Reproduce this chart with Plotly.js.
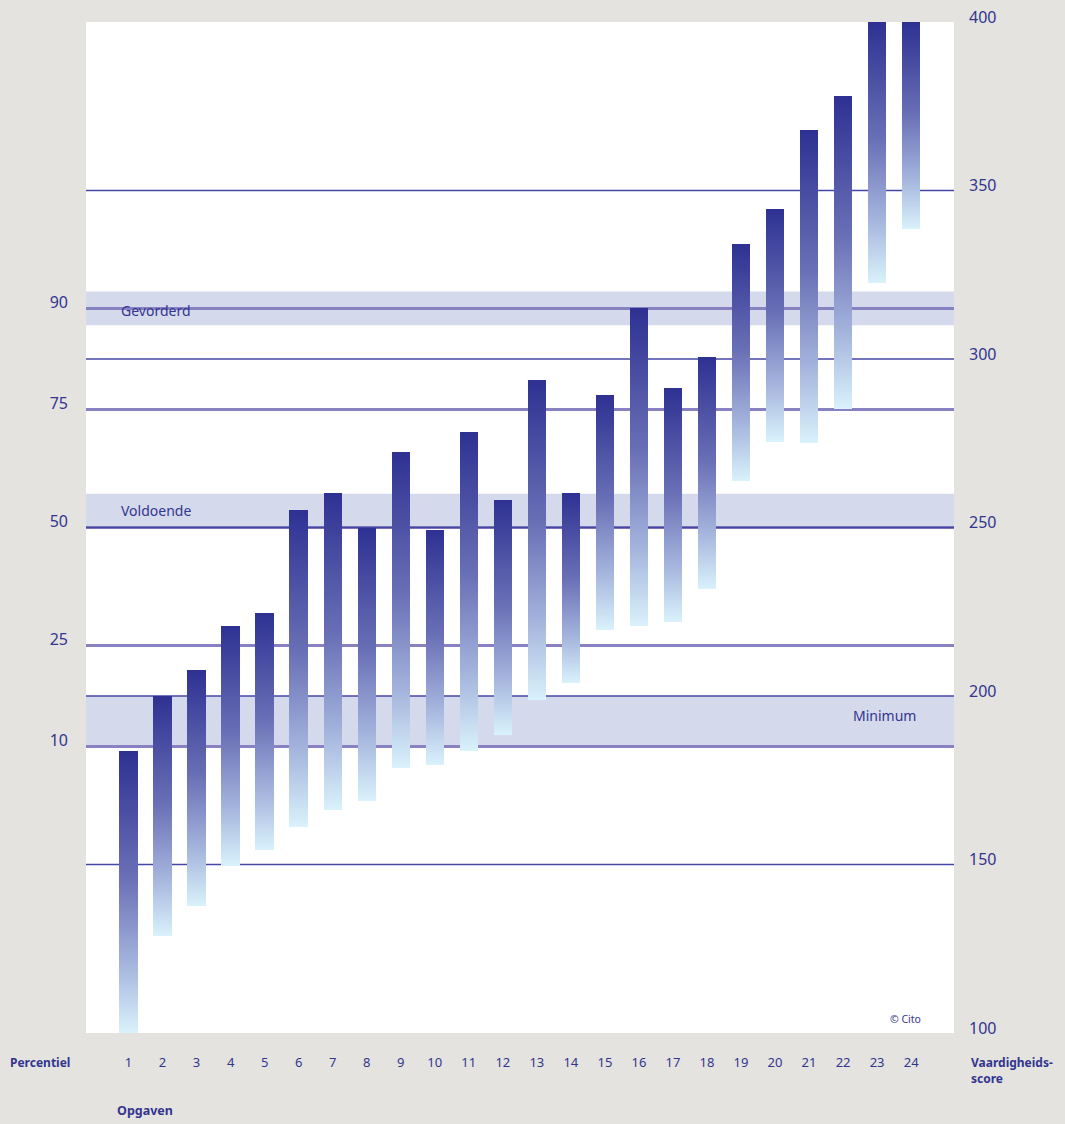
<!DOCTYPE html>
<html>
<head>
<meta charset="utf-8">
<script src="https://cdn.plot.ly/plotly-3.0.1.min.js"></script>
<style>
  html, body { margin:0; padding:0; background:#e4e3df; }
  #chart { width:1065px; height:1124px; }
</style>
</head>
<body>
<div id="chart"></div>
<script>
// ---- data ----
const opgaven = [1,2,3,4,5,6,7,8,9,10,11,12,13,14,15,16,17,18,19,20,21,22,23,24];
const topScores    = [183.6,200.0,207.7,220.7,224.6,255.1,260.3,249.8,272.3,249.4,278.3,258.3,293.8,260.2,289.3,315.1,291.3,300.5,334.1,344.5,367.9,378.0,400,400];
const bottomScores = [100.0,128.7,137.6,149.6,154.2,161.1,166.1,168.8,178.6,179.5,183.6,188.4,198.7,203.8,219.6,220.7,221.9,231.7,263.7,275.5,275.0,285.1,322.5,338.5];

const scoreTicks = [100,150,200,250,300,350,400];
const gridScores = [150,200,250,300,350];

const percentileLabels = ['10','25','50','75','90'];
const percentileScores = [185,215,250,285,315];

const bandNames = ['Minimum','Voldoende','Gevorderd'];
const bandLow   = [185,250,310];
const bandHigh  = [200,260,320];

// ---- styles ----
const NAVY = '#33358f';
const FONT = 'Noto Sans, Open Sans, sans-serif';
const PLOT_L = 86, PLOT_R = 954, PLOT_T = 22, PLOT_B = 1033;
const PW = PLOT_R - PLOT_L, PH = PLOT_B - PLOT_T;
const px = x => (x - PLOT_L) / PW;
const py = y => (PLOT_B - y) / PH;

const heights = topScores.map((t,i) => t - bottomScores[i]);

const traces = [{
  type: 'bar',
  x: opgaven,
  y: heights,
  base: bottomScores,
  width: 0.54,
  marker: { color: '#2e3192', line: { width: 0 } },
  hoverinfo: 'skip',
  yaxis: 'y',
  showlegend: false
}, {
  // invisible trace to activate left percentile axis
  type: 'scatter', mode: 'markers',
  x: [opgaven[0]], y: [percentileScores[0]],
  marker: { opacity: 0 }, yaxis: 'y2', hoverinfo: 'skip', showlegend: false
}];

const shapes = [];
bandNames.forEach((n,i) => shapes.push({
  type:'rect', xref:'paper', yref:'y', x0:0, x1:1, y0:bandLow[i], y1:bandHigh[i],
  fillcolor:'#d4d9ec', line:{width:0}, layer:'below'
}));
percentileScores.forEach(s => shapes.push({
  type:'line', xref:'paper', yref:'y', x0:0, x1:1, y0:s, y1:s,
  line:{color:'#8882c2', width:3}, layer:'between'
}));
gridScores.forEach(s => shapes.push({
  type:'line', xref:'paper', yref:'y', x0:0, x1:1, y0:s, y1:s,
  line:{color:'#4446a4', width:1.3}, layer:'between'
}));

const annotations = [
  { text:'Gevorderd', xref:'paper', yref:'y', x:px(119), y:(bandLow[2]+bandHigh[2])/2, xanchor:'left', yanchor:'middle', yshift:-2, showarrow:false, font:{family:FONT,size:14,color:NAVY} },
  { text:'Voldoende', xref:'paper', yref:'y', x:px(119), y:(bandLow[1]+bandHigh[1])/2, xanchor:'left', yanchor:'middle', yshift:0, showarrow:false, font:{family:FONT,size:14,color:NAVY} },
  { text:'Minimum', xref:'paper', yref:'y', x:px(918), y:(bandLow[0]+bandHigh[0])/2, xanchor:'right', yanchor:'middle', yshift:6, showarrow:false, font:{family:FONT,size:14,color:NAVY} },
  { text:'© Cito', xref:'paper', yref:'paper', x:px(905), y:py(1019), xanchor:'center', yanchor:'middle', showarrow:false, font:{family:FONT,size:10.5,color:NAVY} },
  { text:'<b>Percentiel</b>', xref:'paper', yref:'paper', x:px(40), y:py(1062), xanchor:'center', yanchor:'middle', showarrow:false, font:{family:FONT,size:12,color:NAVY} },
  { text:'<b>Opgaven</b>', xref:'paper', yref:'paper', x:px(145), y:py(1110), xanchor:'center', yanchor:'middle', showarrow:false, font:{family:FONT,size:12.5,color:NAVY} },
  { text:'<b>Vaardigheids-</b><br><b>score</b>', xref:'paper', yref:'paper', x:px(969), y:py(1052), xanchor:'left', yanchor:'top', align:'left', showarrow:false, font:{family:FONT,size:12,color:NAVY} }
];

const layout = {
  width:1065, height:1124,
  margin:{ l:PLOT_L, r:1065-PLOT_R, t:PLOT_T, b:1124-PLOT_B, pad:0 },
  paper_bgcolor:'#e4e3df', plot_bgcolor:'#ffffff',
  font:{ family:FONT, color:NAVY },
  bargap:0,
  xaxis:{
    range:[-0.25, 25.26], tickvals:opgaven, ticktext:opgaven.map(String),
    showgrid:false, zeroline:false, showline:false, ticks:'',
    ticklabelstandoff:20, tickfont:{family:FONT,size:13,color:NAVY}, fixedrange:true
  },
  yaxis:{
    range:[100,400], side:'right', tickvals:scoreTicks, ticktext:scoreTicks.map(String),
    showgrid:false, zeroline:false, showline:false, ticks:'',
    ticklabelstandoff:14, ticklabelshift:-5, tickfont:{family:FONT,size:16,color:NAVY}, fixedrange:true
  },
  yaxis2:{
    range:[100,400], side:'left', overlaying:'y', tickvals:percentileScores, ticktext:percentileLabels,
    showgrid:false, zeroline:false, showline:false, ticks:'',
    ticklabelstandoff:17, ticklabelshift:-6, tickfont:{family:FONT,size:16,color:NAVY}, fixedrange:true
  },
  shapes:shapes,
  annotations:annotations,
  showlegend:false
};

function applyGradient(gd){
  const ns = 'http://www.w3.org/2000/svg';
  const svg = gd.querySelector('svg.main-svg');
  if (!svg) return;
  if (!document.getElementById('barGrad')) {
    let defs = svg.querySelector('defs');
    if (!defs) { defs = document.createElementNS(ns,'defs'); svg.insertBefore(defs, svg.firstChild); }
    const lg = document.createElementNS(ns,'linearGradient');
    lg.setAttribute('id','barGrad');
    lg.setAttribute('x1','0'); lg.setAttribute('y1','0');
    lg.setAttribute('x2','0'); lg.setAttribute('y2','1');
    [[0,'#2e3192'],[0.45,'#6a70b6'],[0.75,'#a3b3dc'],[1,'#d9f2fb']].forEach(([o,c]) => {
      const st = document.createElementNS(ns,'stop');
      st.setAttribute('offset', o);
      st.setAttribute('stop-color', c);
      lg.appendChild(st);
    });
    defs.appendChild(lg);
  }
  gd.querySelectorAll('.barlayer .point path').forEach(p => {
    p.style.fill = 'url(#barGrad)';
    p.style.fillOpacity = 1;
  });
}

const gd = document.getElementById('chart');
Plotly.newPlot(gd, traces, layout, {displayModeBar:false, staticPlot:true}).then(() => {
  applyGradient(gd);
  gd.on && gd.on('plotly_afterplot', () => applyGradient(gd));
});
</script>
</body>
</html>
